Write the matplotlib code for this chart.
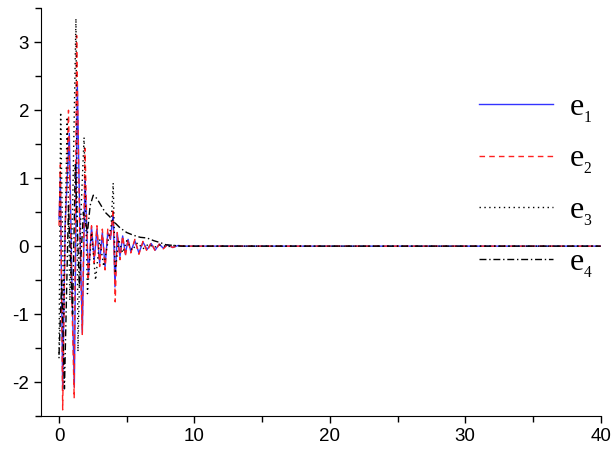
import matplotlib
matplotlib.use('Agg')
import matplotlib.pyplot as plt
from matplotlib.ticker import MultipleLocator

plt.rcParams['font.family'] = ['Liberation Sans', 'DejaVu Sans']
plt.rcParams['mathtext.fontset'] = 'custom'
plt.rcParams['mathtext.rm'] = 'Liberation Serif'
plt.rcParams['mathtext.it'] = 'Liberation Serif:italic'
plt.rcParams['axes.unicode_minus'] = False

# values, t in seconds
t1 = [0, 0.1, 0.27, 0.45, 0.76, 0.95, 1.13, 1.35, 1.55, 1.72, 1.92, 2.17, 2.4, 2.6,
      2.8, 3.0, 3.2, 3.4, 3.6, 3.8, 4.0, 4.13, 4.3, 4.5, 4.7, 4.9, 5.1, 5.3, 5.6, 5.9,
      6.2, 6.5, 6.8, 7.1, 7.4, 7.7, 8.0, 8.4, 8.8, 9.2, 9.6, 10, 40]
e1 = [0.4, 1.0, -2.12, 0.3, 1.66, -0.5, -2.07, 2.4, 0.2, -1.28, 1.0, -0.45, 0.28, -0.2,
      0.25, -0.25, 0.2, -0.3, 0.2, 0.1, 0.48, -0.6, 0.2, -0.15, 0.15, -0.12, 0.1, -0.08,
      0.08, -0.1, 0.06, -0.05, 0.04, -0.06, 0.03, -0.03, 0.02, -0.02, 0.01, 0, 0, 0, 0]
t2 = [0, 0.1, 0.27, 0.45, 0.7, 0.92, 1.12, 1.3, 1.52, 1.72, 1.92, 2.15, 2.4, 2.6,
      2.8, 3.0, 3.2, 3.4, 3.6, 3.8, 4.0, 4.15, 4.3, 4.5, 4.7, 4.9, 5.1, 5.3, 5.6, 5.9,
      6.2, 6.5, 6.8, 7.1, 7.4, 7.7, 8.0, 8.4, 8.8, 9.2, 9.6, 10, 40]
e2 = [0.3, 1.2, -2.41, 0.2, 2.0, -0.5, -2.24, 3.1, 0.3, -1.3, 1.44, -0.5, 0.3, -0.25,
      0.3, -0.3, 0.25, -0.35, 0.25, 0.1, 0.55, -0.82, 0.2, -0.2, 0.15, -0.15, 0.1, -0.1,
      0.1, -0.12, 0.07, -0.08, 0.05, -0.07, 0.03, -0.04, 0.02, -0.02, 0.01, 0, 0, 0, 0]
t3 = [0, 0.12, 0.35, 0.6, 0.8, 1.0, 1.25, 1.4, 1.6, 1.85, 2.1, 2.4, 2.7, 3.0, 3.3,
      3.6, 3.85, 4.0, 4.15, 4.4, 4.7, 5.0, 5.4, 5.8, 6.2, 6.6, 7.0, 7.5, 8.0, 8.5, 9.0,
      10, 40]
e3 = [-1.65, 1.97, -1.0, 1.9, -0.8, 0.5, 3.35, -1.55, 0.4, 1.6, -0.7, 0.2, -0.5, 0.1,
      -0.3, 0.05, 0.3, 0.93, -0.4, 0.1, -0.1, 0.08, -0.06, 0.05, -0.04, 0.03, -0.02,
      0.02, -0.01, 0.01, 0, 0, 0]
t4 = [0, 0.2, 0.4, 0.7, 1.0, 1.2, 1.5, 1.8, 2.1, 2.3, 2.53, 2.8, 3.1, 3.4, 3.76, 4.1,
      4.5, 5.0, 5.5, 6.0, 6.5, 7.0, 7.5, 7.9, 8.5, 9.0, 10, 40]
e4 = [-1.6, -0.5, -2.1, 0.6, -1.0, 1.2, -0.6, 0.5, 0.2, 0.6, 0.75, 0.7, 0.6, 0.5, 0.43,
      0.35, 0.27, 0.2, 0.16, 0.13, 0.12, 0.08, 0.05, 0.02, 0.01, 0, 0, 0]

fig = plt.figure(figsize=(6.13, 4.55), dpi=100)
ax = fig.add_axes([0.0669, 0.0857, 0.913, 0.896])

ax.plot(t1, e1, color='#3333ff', lw=1.0, label=r'$\mathrm{e}_{_1}$')
ax.plot(t2, e2, color='#ff2020', lw=1.0, ls=(0, (4, 3)), label=r'$\mathrm{e}_{_2}$')
ax.plot(t3, e3, color='black', lw=1.0, ls=(0, (1, 2.5)), label=r'$\mathrm{e}_{_3}$')
ax.plot(t4, e4, color='black', lw=1.0, ls=(0, (5, 2, 1, 2)), label=r'$\mathrm{e}_{_4}$')

ax.set_xlim(-1.33, 40)
ax.set_ylim(-2.5, 3.5)
ax.xaxis.set_major_locator(MultipleLocator(10))
ax.xaxis.set_minor_locator(MultipleLocator(5))
ax.yaxis.set_major_locator(MultipleLocator(1))
ax.yaxis.set_minor_locator(MultipleLocator(0.5))
ax.tick_params(which='both', direction='out', labelsize=13.5, width=1)
ax.tick_params(which='major', length=5)
ax.tick_params(which='minor', length=4)
ax.spines['top'].set_visible(False)
ax.spines['right'].set_visible(False)

ax.legend(loc='upper left', bbox_to_anchor=(0.735, 0.861), bbox_transform=fig.transFigure,
          frameon=False, fontsize=23, handlelength=2.3, labelspacing=0.6, handletextpad=0.5)

fig.savefig('out.png', dpi=100)
